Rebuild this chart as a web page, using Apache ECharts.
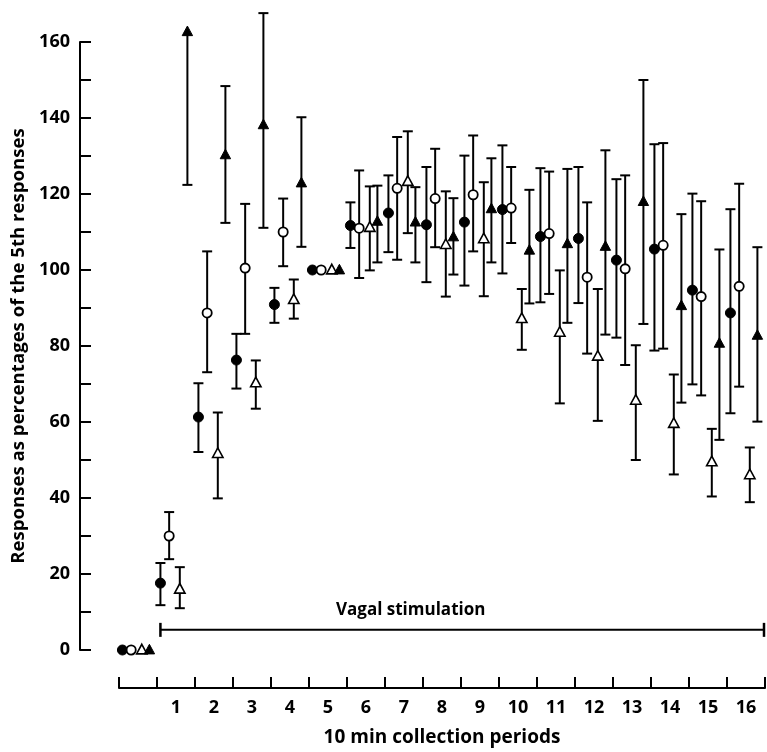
<!DOCTYPE html>
<html>
<head>
<meta charset="utf-8">
<script src="https://cdn.jsdelivr.net/npm/echarts@6/dist/echarts.min.js"></script>
<style>
html,body{margin:0;padding:0;background:#fff;}
#chart{width:767px;height:752px;}
</style>
</head>
<body>
<div id="chart"></div>
<script>
// ---- data ----
const periodLabels = ['', '1', '2', '3', '4', '5', '6', '7', '8', '9', '10', '11', '12', '13', '14', '15', '16'];
const periods = [0, 1, 2, 3, 4, 5, 6, 7, 8, 9, 10, 11, 12, 13, 14, 15, 16];

const filledCircleMean = [0, 17.6, 61.3, 76.3, 90.9, 100, 111.7, 115, 111.9, 112.6, 115.9, 108.8, 108.3, 102.6, 105.5, 94.7, 88.7];
const filledCircleLow  = [null, 11.8, 52.1, 68.8, 86.1, null, 105.8, 104.7, 96.8, 95.9, 99.1, 91.5, 91.3, 82.2, 78.8, 69.9, 62.3];
const filledCircleHigh = [null, 22.9, 70.2, 83.2, 95.3, null, 117.8, 124.9, 127.1, 130.1, 132.8, 126.8, 127.1, 123.9, 133.1, 120.1, 116];

const openCircleMean = [0, 30, 88.7, 100.5, 110, 100, 111, 121.5, 118.8, 119.8, 116.3, 109.6, 98.1, 100.3, 106.5, 93, 95.7];
const openCircleLow  = [null, 23.9, 73.1, 83.2, 101, null, 97.9, 102.7, 106, 104.9, 107.1, 93.7, 78, 75, 79.3, 67, 69.3];
const openCircleHigh = [null, 36.3, 104.9, 117.4, 118.8, null, 126.2, 135, 131.9, 135.4, 127.1, 125.9, 117.8, 124.9, 133.4, 118.1, 122.7];

const openTriangleMean = [0, 16, 51.7, 70.3, 92.2, 100, 111.2, 123.3, 106.7, 108.2, 87.2, 83.6, 77.3, 65.7, 59.6, 49.5, 46.1];
const openTriangleLow  = [null, 11, 39.9, 63.5, 87.2, null, 99.9, 109.7, 93, 93.1, 79, 64.9, 60.3, 50, 46.2, 40.4, 38.9];
const openTriangleHigh = [null, 21.8, 62.5, 76.2, 97.5, null, 122, 136.5, 120.7, 123.1, 95, 99.9, 95, 80.2, 72.5, 58.2, 53.3];

const filledTriangleMean = [0, 162.7, 130.3, 138.2, 122.9, 100, 112.8, 112.6, 108.7, 116.1, 105.2, 106.9, 106.2, 118, 90.6, 80.7, 82.8];
const filledTriangleLow  = [null, 122.4, 112.4, 111.1, 106.1, null, 102, 102, 98.8, 102, 91.2, 86.1, 83, 85.8, 65.1, 55.3, 60.1];
const filledTriangleHigh = [null, null, 148.4, 167.6, 140.2, null, 122.2, 121.8, 118.9, 129.4, 121.1, 126.6, 131.5, 150, 114.7, 105.4, 106];

// stimulation period bar (x from first stimulated sample to end of period 16, at level in %)
const stimulation = { start: 0.59, end: 16.5, level: 5.3, label: 'Vagal stimulation' };

// ---- styling (not data) ----
const FONT = 'Open Sans';
const INK = '#000';
const groupOffsets = { fc: -0.41, oc: -0.18, ot: 0.10, ft: 0.30 };
const CAP = 5;

function buildData(mean, off) {
  return periods.map((p, i) => [p + off, mean[i]]);
}

function makeRender(kind, lowArr, highArr) {
  return function (params, api) {
    const i = params.dataIndex;
    const x = api.value(0), m = api.value(1);
    const c = api.coord([x, m]);
    const children = [];
    const lw = 2;
    const lo = lowArr[i], hi = highArr[i];
    if (lo != null || hi != null) {
      const yLo = lo != null ? api.coord([x, lo])[1] : c[1];
      const yHi = hi != null ? api.coord([x, hi])[1] : c[1];
      children.push({ type: 'line', shape: { x1: c[0], y1: yLo, x2: c[0], y2: yHi }, style: { stroke: INK, lineWidth: lw } });
      if (lo != null) children.push({ type: 'line', shape: { x1: c[0] - CAP, y1: yLo, x2: c[0] + CAP, y2: yLo }, style: { stroke: INK, lineWidth: lw } });
      if (hi != null) children.push({ type: 'line', shape: { x1: c[0] - CAP, y1: yHi, x2: c[0] + CAP, y2: yHi }, style: { stroke: INK, lineWidth: lw } });
    }
    if (kind === 'fc') {
      children.push({ type: 'circle', shape: { cx: c[0], cy: c[1], r: 5 }, style: { fill: INK, stroke: INK, lineWidth: 1 } });
    } else if (kind === 'oc') {
      children.push({ type: 'circle', shape: { cx: c[0], cy: c[1], r: 4.6 }, style: { fill: '#fff', stroke: INK, lineWidth: 1.8 } });
    } else {
      const s = 5.2;
      const pts = [[c[0], c[1] - s - 0.5], [c[0] + s, c[1] + s * 0.75], [c[0] - s, c[1] + s * 0.75]];
      if (kind === 'ot') {
        children.push({ type: 'polygon', shape: { points: pts }, style: { fill: '#fff', stroke: INK, lineWidth: 1.6 } });
      } else {
        children.push({ type: 'polygon', shape: { points: pts }, style: { fill: INK, stroke: INK, lineWidth: 1 } });
      }
    }
    return { type: 'group', children: children };
  };
}

function errSeries(kind, mean, low, high) {
  return {
    type: 'custom',
    xAxisIndex: 1,
    yAxisIndex: 0,
    clip: false,
    encode: { x: 0, y: 1 },
    data: buildData(mean, groupOffsets[kind]),
    renderItem: makeRender(kind, low, high),
    silent: true,
    z: 5
  };
}

const chart = echarts.init(document.getElementById('chart'), null, { renderer: 'canvas' });

const option = {
  backgroundColor: '#fff',
  animation: false,
  textStyle: { fontFamily: FONT, color: INK },
  grid: { left: 119, right: 2, top: 42, bottom: 101 },
  xAxis: [
    {
      type: 'category',
      data: periodLabels,
      position: 'bottom',
      offset: 38,
      boundaryGap: true,
      axisLine: { show: true, onZero: false, lineStyle: { color: INK, width: 2 } },
      axisTick: { show: true, alignWithLabel: false, inside: true, length: 11, interval: 0, lineStyle: { color: INK, width: 2 } },
      axisLabel: { interval: 0, margin: 11, fontSize: 18, fontWeight: 'bold', color: INK, fontFamily: FONT },
      splitLine: { show: false },
      name: '10 min collection periods',
      nameLocation: 'middle',
      nameGap: 40,
      nameTextStyle: { fontSize: 19, fontWeight: 'bold', color: INK, fontFamily: FONT }
    },
    {
      type: 'value',
      min: -0.5,
      max: 16.5,
      show: false,
      axisLine: { onZero: false }
    }
  ],
  yAxis: [
    {
      type: 'value',
      min: 0,
      max: 160,
      interval: 10,
      offset: 39,
      axisLine: { show: true, onZero: false, lineStyle: { color: INK, width: 2 } },
      axisTick: { show: true, inside: true, length: 11, lineStyle: { color: INK, width: 2 } },
      axisLabel: {
        margin: 10, fontSize: 18, fontWeight: 'bold', color: INK, fontFamily: FONT,
        formatter: function (v) { return v % 20 === 0 ? String(v) : ''; }
      },
      splitLine: { show: false },
      name: 'Responses as percentages of the 5th responses',
      nameLocation: 'middle',
      nameGap: 52,
      nameTextStyle: { fontSize: 18.6, fontWeight: 'bold', color: INK, fontFamily: FONT }
    }
  ],
  graphic: [
    {
      type: 'text',
      left: 336,
      top: 602,
      style: { text: stimulation.label, font: 'bold 17px "Open Sans"', fill: INK }
    }
  ],
  series: [
    {
      type: 'custom',
      xAxisIndex: 1,
      yAxisIndex: 0,
      clip: false,
      silent: true,
      encode: { x: 0, y: 1 },
      data: [[stimulation.start, stimulation.level, stimulation.end]],
      renderItem: function (params, api) {
        const a = api.coord([api.value(0), api.value(1)]);
        const b = api.coord([api.value(2), api.value(1)]);
        const st = { stroke: INK, lineWidth: 2 };
        return {
          type: 'group',
          children: [
            { type: 'line', shape: { x1: a[0], y1: a[1], x2: b[0] - 1, y2: b[1] }, style: st },
            { type: 'line', shape: { x1: a[0], y1: a[1] - 7, x2: a[0], y2: a[1] + 7 }, style: { stroke: INK, lineWidth: 2.5 } },
            { type: 'line', shape: { x1: b[0] - 1, y1: b[1] - 7, x2: b[0] - 1, y2: b[1] + 7 }, style: { stroke: INK, lineWidth: 2.5 } }
          ]
        };
      }
    },
    errSeries('fc', filledCircleMean, filledCircleLow, filledCircleHigh),
    errSeries('oc', openCircleMean, openCircleLow, openCircleHigh),
    errSeries('ot', openTriangleMean, openTriangleLow, openTriangleHigh),
    errSeries('ft', filledTriangleMean, filledTriangleLow, filledTriangleHigh)
  ]
};

chart.setOption(option);
</script>
</body>
</html>
